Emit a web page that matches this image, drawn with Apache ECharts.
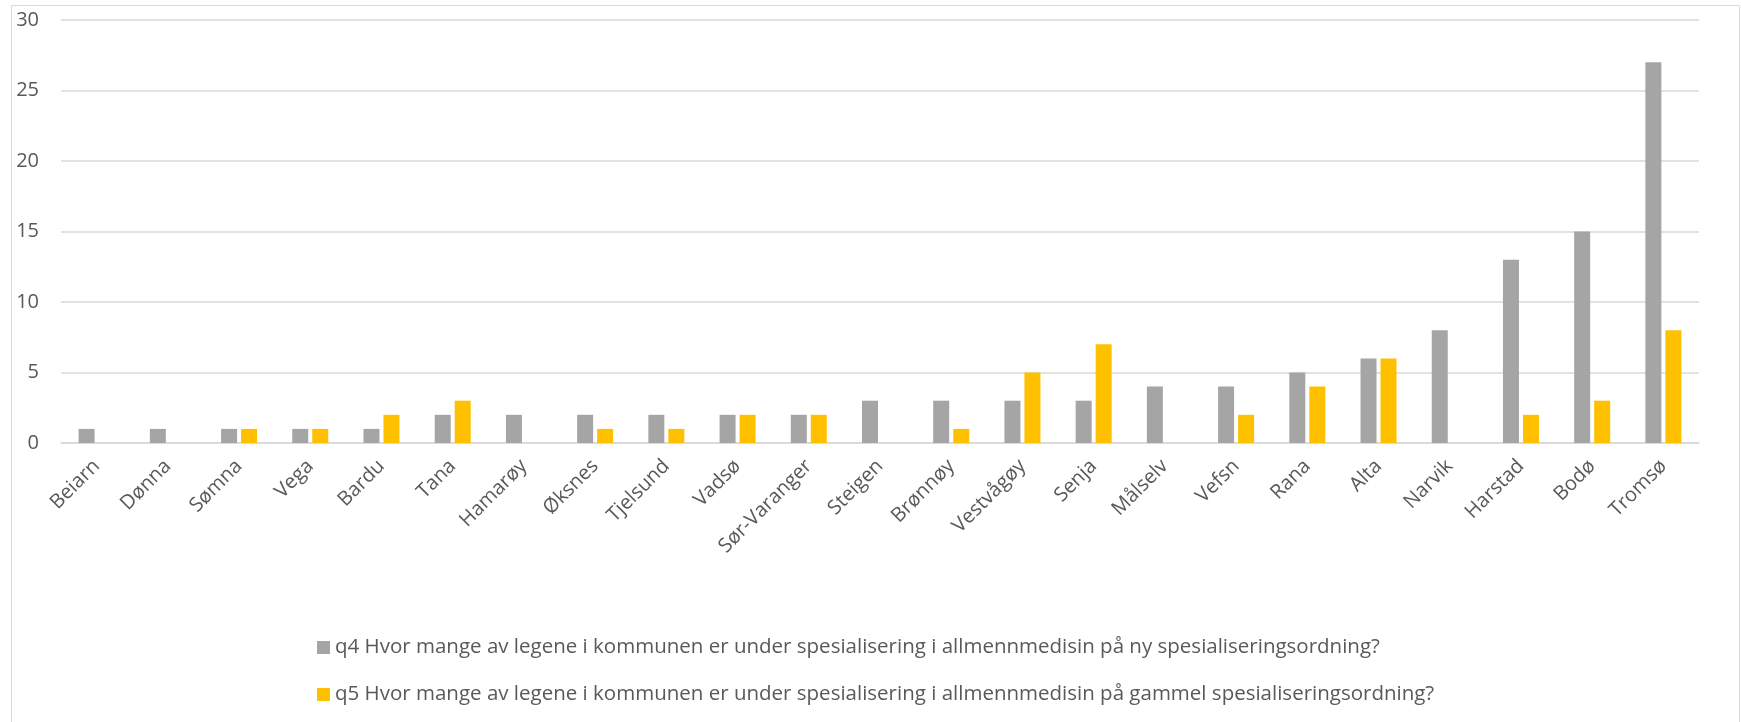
<!doctype html>
<html lang="no">
<head>
<meta charset="utf-8">
<script src="https://cdn.jsdelivr.net/npm/echarts@6/dist/echarts.min.js"></script>
<style>
  html, body { margin: 0; padding: 0; background: #fff; }
  #main { width: 1741px; height: 722px; }
</style>
</head>
<body>
<div id="main"></div>
<script>
  var kommuner = ["Beiarn", "Dønna", "Sømna", "Vega", "Bardu", "Tana", "Hamarøy", "Øksnes",
    "Tjelsund", "Vadsø", "Sør-Varanger", "Steigen", "Brønnøy", "Vestvågøy", "Senja",
    "Målselv", "Vefsn", "Rana", "Alta", "Narvik", "Harstad", "Bodø", "Tromsø"];
  var nyOrdning = [1, 1, 1, 1, 1, 2, 2, 2, 2, 2, 2, 3, 3, 3, 3, 4, 4, 5, 6, 8, 13, 15, 27];
  var gammelOrdning = [null, null, 1, 1, 2, 3, null, 1, 1, 2, 2, null, 1, 5, 7, null, 2, 4, 6, null, 2, 3, 8];
  var navnNy = "q4 Hvor mange av legene i kommunen er under spesialisering i allmennmedisin på ny spesialiseringsordning?";
  var navnGammel = "q5 Hvor mange av legene i kommunen er under spesialisering i allmennmedisin på gammel spesialiseringsordning?";

  var tekst = "#595959";
  var font = "'Open Sans', sans-serif";

  var myChart = echarts.init(document.getElementById('main'));

  myChart.setOption({
    animation: false,
    textStyle: { fontFamily: font, color: tekst },
    graphic: [{
      type: 'rect',
      shape: { x: 11.5, y: 5.5, width: 1728, height: 740 },
      style: { fill: 'none', stroke: '#D9D9D9', lineWidth: 1 },
      silent: true
    }],
    grid: { left: 61, right: 42, top: 20, bottom: 279 },
    legend: {
      orient: 'vertical',
      left: 312,
      top: 632,
      itemGap: 26,
      itemWidth: 13,
      itemHeight: 13,
      icon: 'rect',
      textStyle: { fontFamily: font, fontSize: 20.5, color: tekst },
      data: [navnNy, navnGammel]
    },
    xAxis: {
      type: 'category',
      data: kommuner,
      axisLine: { lineStyle: { color: '#D9D9D9', width: 1.5 } },
      axisTick: { show: false },
      axisLabel: {
        rotate: 45,
        interval: 0,
        margin: 20,
        fontFamily: font,
        fontSize: 20,
        color: tekst
      }
    },
    yAxis: {
      type: 'value',
      min: 0,
      max: 30,
      interval: 5,
      axisLine: { show: false },
      axisTick: { show: false },
      splitLine: { lineStyle: { color: '#D9D9D9', width: 1.5 } },
      axisLabel: { margin: 22, fontFamily: font, fontSize: 20, color: tekst }
    },
    series: [
      {
        name: navnNy,
        type: 'bar',
        data: nyOrdning,
        barWidth: 16,
        barGap: '25%',
        itemStyle: { color: '#A5A5A5' }
      },
      {
        name: navnGammel,
        type: 'bar',
        data: gammelOrdning,
        barWidth: 16,
        barGap: '25%',
        itemStyle: { color: '#FFC000' }
      }
    ]
  });
</script>
</body>
</html>
